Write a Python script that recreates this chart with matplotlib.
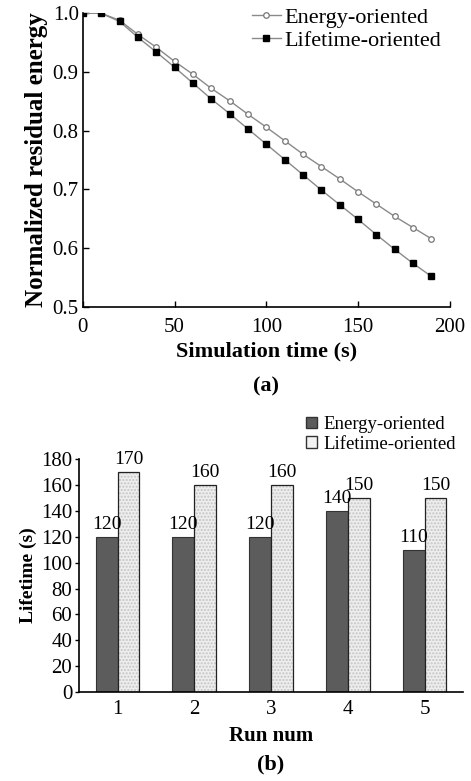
import numpy as np
import matplotlib
matplotlib.use('Agg')
import matplotlib.pyplot as plt
from matplotlib.patches import Patch

plt.rcParams['font.family'] = ['Liberation Serif', 'DejaVu Serif']

# (a) normalized residual energy over time
sim_time = [0, 10, 20, 30, 40, 50, 60, 70, 80, 90, 100,
            110, 120, 130, 140, 150, 160, 170, 180, 190]
energy_oriented = [1.0, 1.0, 0.988, 0.964, 0.942, 0.918, 0.896, 0.872, 0.851, 0.828,
                   0.806, 0.783, 0.760, 0.739, 0.718, 0.696, 0.675, 0.654, 0.635, 0.616]
lifetime_oriented = [1.0, 1.0, 0.986, 0.959, 0.934, 0.908, 0.881, 0.854, 0.829, 0.803,
                     0.777, 0.751, 0.725, 0.699, 0.674, 0.649, 0.623, 0.598, 0.574, 0.552]

# (b) lifetime per run
runs = [1, 2, 3, 4, 5]
life_energy = [120, 120, 120, 140, 110]
life_lifetime = [170, 160, 160, 150, 150]

fig = plt.figure(figsize=(4.71, 7.81), dpi=100)

# ---- (a)
ax1 = fig.add_axes([0.176, 0.607, 0.779, 0.376])
ax1.plot(sim_time, energy_oriented, '-', color='#8a8a8a', linewidth=1.0,
         marker='o', markersize=4, markerfacecolor='white', markeredgecolor='#777777',
         markeredgewidth=0.9, label='Energy-oriented')
ax1.plot(sim_time, lifetime_oriented, '-', color='#8a8a8a', linewidth=1.0,
         marker='s', markersize=4, markerfacecolor='black', markeredgecolor='black',
         label='Lifetime-oriented')
ax1.set_xlim(0, 200)
ax1.set_ylim(0.5, 1.0)
ax1.set_xticks([0, 50, 100, 150, 200])
ax1.set_yticks([0.5, 0.6, 0.7, 0.8, 0.9, 1.0])
ax1.yaxis.set_major_formatter(matplotlib.ticker.FormatStrFormatter('%.1f'))
ax1.spines['top'].set_visible(False)
ax1.spines['right'].set_visible(False)
ax1.spines['left'].set_linewidth(1.2)
ax1.spines['bottom'].set_linewidth(1.2)
ax1.tick_params(direction='in', length=4, labelsize=15, width=1.0, pad=3)
ax1.tick_params(axis='x', pad=8)
ax1.set_xlabel('Simulation time (s)', fontsize=16, fontweight='bold', labelpad=3)
ax1.set_ylabel('Normalized residual energy', fontsize=18, fontweight='bold', labelpad=3)
ax1.legend(loc='upper right', frameon=False, fontsize=16, handlelength=1.3,
           handletextpad=0.15, borderaxespad=0.0, labelspacing=0.1,
           bbox_to_anchor=(1.0, 1.05))
ax1.text(0.5, -0.27, '(a)', transform=ax1.transAxes, ha='center', va='center',
         fontsize=16, fontweight='bold')

# ---- (b)
ax2 = fig.add_axes([0.168, 0.114, 0.815, 0.298])
x = np.array(runs)
w = 0.285
dark = '#5c5c5c'
ax2.bar(x - w / 2, life_energy, w, color=dark, edgecolor='#333333', linewidth=0.8)
ax2.bar(x + w / 2, life_lifetime, w, color='#eeeeee', edgecolor='#c4c4c4',
        hatch='.....', linewidth=0)
ax2.bar(x + w / 2, life_lifetime, w, color='none', edgecolor='#222222', linewidth=0.9)
for xi, v in zip(x - w / 2, life_energy):
    ax2.text(xi, v + 3, str(v), ha='center', va='bottom', fontsize=14)
for xi, v in zip(x + w / 2, life_lifetime):
    ax2.text(xi, v + 3, str(v), ha='center', va='bottom', fontsize=14)
ax2.set_xlim(0.5, 5.5)
ax2.set_ylim(0, 180)
ax2.set_xticks(runs)
ax2.set_yticks(range(0, 181, 20))
ax2.spines['top'].set_visible(False)
ax2.spines['right'].set_visible(False)
ax2.spines['left'].set_linewidth(1.2)
ax2.spines['bottom'].set_linewidth(1.2)
ax2.tick_params(direction='out', length=3, labelsize=15, width=1.0, pad=2)
ax2.tick_params(axis='x', length=0, pad=6)
ax2.set_xlabel('Run num', fontsize=15, fontweight='bold', labelpad=5)
ax2.set_ylabel('Lifetime (s)', fontsize=14, fontweight='bold', labelpad=3)
handles = [Patch(facecolor=dark, edgecolor='#333333', label='Energy-oriented'),
           Patch(facecolor='#f2f2f2', edgecolor='#333333', label='Lifetime-oriented')]
ax2.legend(handles=handles, loc='lower right', frameon=False, fontsize=13.5,
           handlelength=0.6, handleheight=0.6, handletextpad=0.3, labelspacing=0.15,
           borderaxespad=0.0, bbox_to_anchor=(1.0, 0.995))
ax2.text(0.5, -0.31, '(b)', transform=ax2.transAxes, ha='center', va='center',
         fontsize=16, fontweight='bold')

fig.savefig('out.png', dpi=100)
